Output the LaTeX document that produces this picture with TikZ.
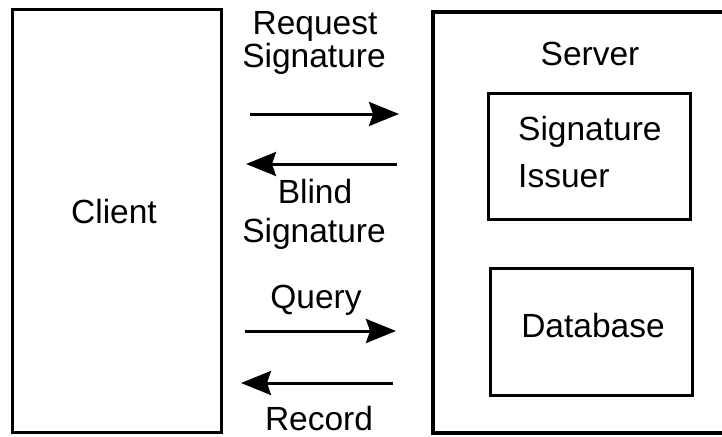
\documentclass[tikz,border=0pt]{standalone}
\usepackage{fontspec}
\setmainfont{Liberation Sans}
\usetikzlibrary{arrows.meta}
\tikzset{
  lbl/.style={font=\fontsize{33.5}{40}\selectfont, inner sep=0pt, anchor=base},
  box/.style={draw=black, line width=3pt, inner sep=0pt, fill=none},
  msg/.style={line width=3pt, -{Stealth[length=30pt,width=24pt,inset=4pt]}},
}
\begin{document}
\begin{tikzpicture}[x=1pt,y=-1pt]
\useasboundingbox (0,0) rectangle (722,436);
\clip (0,0) rectangle (722,436);
% boxes
\node[box, minimum width=209pt, minimum height=422pt] (client) at (116.5,221) {};
\node[box, line width=4.5pt, minimum width=293pt, minimum height=421pt] (server) at (579.5,222.5) {};
\node[box, minimum width=202pt, minimum height=126pt] (issuer) at (589,156) {};
\node[box, minimum width=202pt, minimum height=127pt] (db) at (591,331.5) {};
% labels
\node[lbl] (tclient) at (114,223) {Client};
\node[lbl] (tserver) at (590,65) {Server};
\node[lbl, anchor=base west] (tsig) at (518,140) {Signature};
\node[lbl, anchor=base west] (tiss) at (518,187) {Issuer};
\node[lbl] (tdb) at (593,337) {Database};
\node[lbl] (treq) at (315,35) {Request};
\node[lbl] (treq2) at (314,67) {Signature};
\node[lbl] (tblind) at (315,203) {Blind};
\node[lbl] (tblind2) at (314,242) {Signature};
\node[lbl] (tquery) at (316,308) {Query};
\node[lbl] (trec) at (319,430) {Record};
% arrow end points
\coordinate (a1s) at (250,114); \coordinate (a1e) at (399,114);
\coordinate (a2s) at (397,164); \coordinate (a2e) at (246,164);
\coordinate (a3s) at (245,331); \coordinate (a3e) at (396,331);
\coordinate (a4s) at (393,383); \coordinate (a4e) at (241,383);
\draw[msg] (a1s) -- (a1e);
\draw[msg] (a2s) -- (a2e);
\draw[msg] (a3s) -- (a3e);
\draw[msg] (a4s) -- (a4e);
\end{tikzpicture}
\end{document}
